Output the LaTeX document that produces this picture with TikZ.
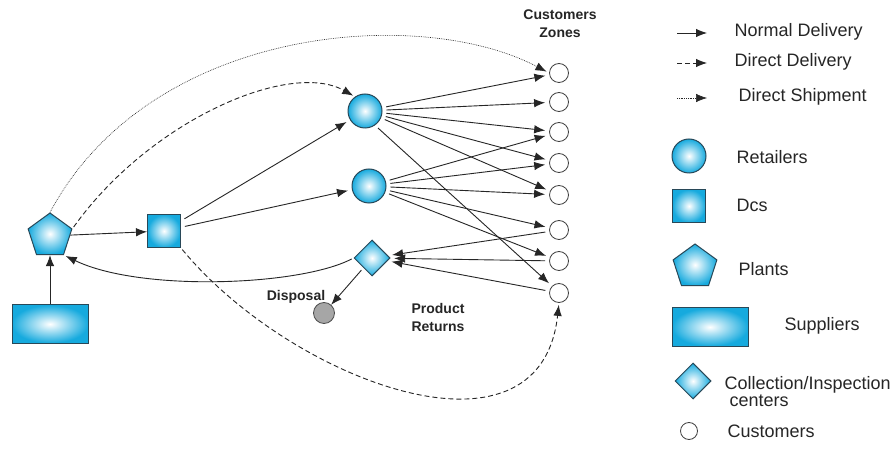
\documentclass[tikz,border=0pt]{standalone}
\usepackage{fontspec}
\setmainfont{Liberation Sans}
\usepackage{tikz}
\usetikzlibrary{arrows.meta, shapes.geometric}
\usepackage{xcolor}

\definecolor{netblue}{RGB}{22,170,222}
\definecolor{netedge}{RGB}{40,72,88}

\begin{document}
\begin{tikzpicture}[
  x=1pt, y=-1pt,
  font=\fontsize{18}{20}\selectfont,
  >={Latex[length=11pt,width=8.5pt]},
  unit/.style={draw=netedge, line width=1pt, shading=radial,
    inner color=white, outer color=netblue, inner sep=0pt},
  retailer/.style={unit, circle, minimum size=34pt},
  dc/.style={unit, minimum size=33pt},
  plant/.style={unit, regular polygon, regular polygon sides=5, minimum size=46pt},
  supplier/.style={unit, minimum width=76pt, minimum height=38pt},
  collect/.style={unit, diamond, minimum size=36pt},
  customer/.style={circle, draw=black!75, fill=white, line width=0.8pt,
    minimum size=19pt, inner sep=0pt},
  dump/.style={circle, draw=black!70, fill=black!35, line width=0.8pt,
    minimum size=21pt, inner sep=0pt},
  flow/.style={->, draw=black!85, line width=0.9pt},
  link/.style={flow, shorten <=4pt, shorten >=4pt},
  direct/.style={flow, dash pattern=on 5pt off 3pt},
  ship/.style={flow, line width=0.6pt, dash pattern=on 0.8pt off 1pt},
  tag/.style={font=\bfseries\fontsize{14}{18}\selectfont, text=black!85, align=center},
  key/.style={anchor=west, text=black!85},
]
  \path[fill=white] (0,0) rectangle (894,444);

  % network
  \node[supplier] (sup) at (50,324) {};
  \node[plant] (plant) at (50,236) {};
  \node[dc] (dc) at (164,231) {};
  \node[retailer] (r1) at (365,111) {};
  \node[retailer] (r2) at (369,186) {};
  \node[collect] (coll) at (372,258) {};
  \node[dump] (dump) at (324,313) {};

  \node[customer] (c1) at (559,73) {};
  \node[customer] (c2) at (559,102) {};
  \node[customer] (c3) at (559,132) {};
  \node[customer] (c4) at (559,163) {};
  \node[customer] (c5) at (559,195) {};
  \node[customer] (c6) at (559,230) {};
  \node[customer] (c7) at (559,261) {};
  \node[customer] (c8) at (559,293) {};

  \node[tag] (zones) at (560,24) {Customers\\Zones};
  \node[tag] (disp) at (296,297) {Disposal};
  \node[tag] (ret) at (438,317) {Product\\Returns};

  \draw[flow] (sup) -- (plant);
  \draw[flow] (plant) -- (dc);
  \draw[link] (dc) -- (r1);
  \draw[link] (dc) -- (r2);

  \draw[link] (r1) -- (c1);
  \draw[link] (r1) -- (c2);
  \draw[link] (r1) -- (c3);
  \draw[link] (r1) -- (c4);
  \draw[link] (r1) -- (c5);
  \draw[link] (r1.-55) -- (c8.135);
  \draw[link] (r2) -- (c3);
  \draw[link] (r2) -- (c4);
  \draw[link] (r2) -- (c5);
  \draw[link] (r2) -- (c6);
  \draw[link] (r2) -- (c7);

  \draw[link] (c6) -- (coll);
  \draw[link] (c7) -- (coll);
  \draw[link] (c8) -- (coll);
  \draw[flow, shorten <=3pt] (coll) -- (dump);
  \draw[flow, shorten <=2pt, shorten >=2pt] (coll.west)
    .. controls (300,286) and (140,292) .. (plant.corner 4);

  \draw[direct, shorten <=2pt, shorten >=2pt] (plant.corner 5)
    .. controls (150,120) and (290,60) .. (r1.125);
  \draw[direct, shorten <=2pt, shorten >=2pt] (dc.south east)
    .. controls (290,380) and (540,475) .. (c8.south);
  \draw[ship, shorten >=3pt] (plant.corner 1)
    .. controls (150,25) and (420,5) .. (c1.west);

  % legend
  \coordinate (n0) at (677,33);
  \coordinate (n1) at (707,33);
  \coordinate (d0) at (677,63);
  \coordinate (d1) at (707,63);
  \coordinate (s0) at (677,98);
  \coordinate (s1) at (707,98);
  \draw[flow] (n0) -- (n1);
  \draw[direct] (d0) -- (d1);
  \draw[ship] (s0) -- (s1);
  \node[key] (kn) at (731,32) {Normal Delivery};
  \node[key] (kd) at (731,62) {Direct Delivery};
  \node[key] (ks) at (735,97) {Direct Shipment};

  \node[retailer] (lr) at (689,156) {};
  \node[dc] (ld) at (689,206) {};
  \node[plant] (lp) at (695,267) {};
  \node[supplier] (ls) at (710,327) {};
  \node[collect] (lc) at (693,381) {};
  \node[customer, minimum size=17pt] (lk) at (689,431) {};

  \node[key] (kr) at (733,157) {Retailers};
  \node[key] (kdc) at (733,205) {Dcs};
  \node[key] (kp) at (735,269) {Plants};
  \node[key] (ksu) at (781,326) {Suppliers};
  \node[key, align=left] (kc) at (721,392) {Collection/Inspection\\[-3pt]\ centers};
  \node[key] (kk) at (724,431) {Customers};
\end{tikzpicture}
\end{document}
